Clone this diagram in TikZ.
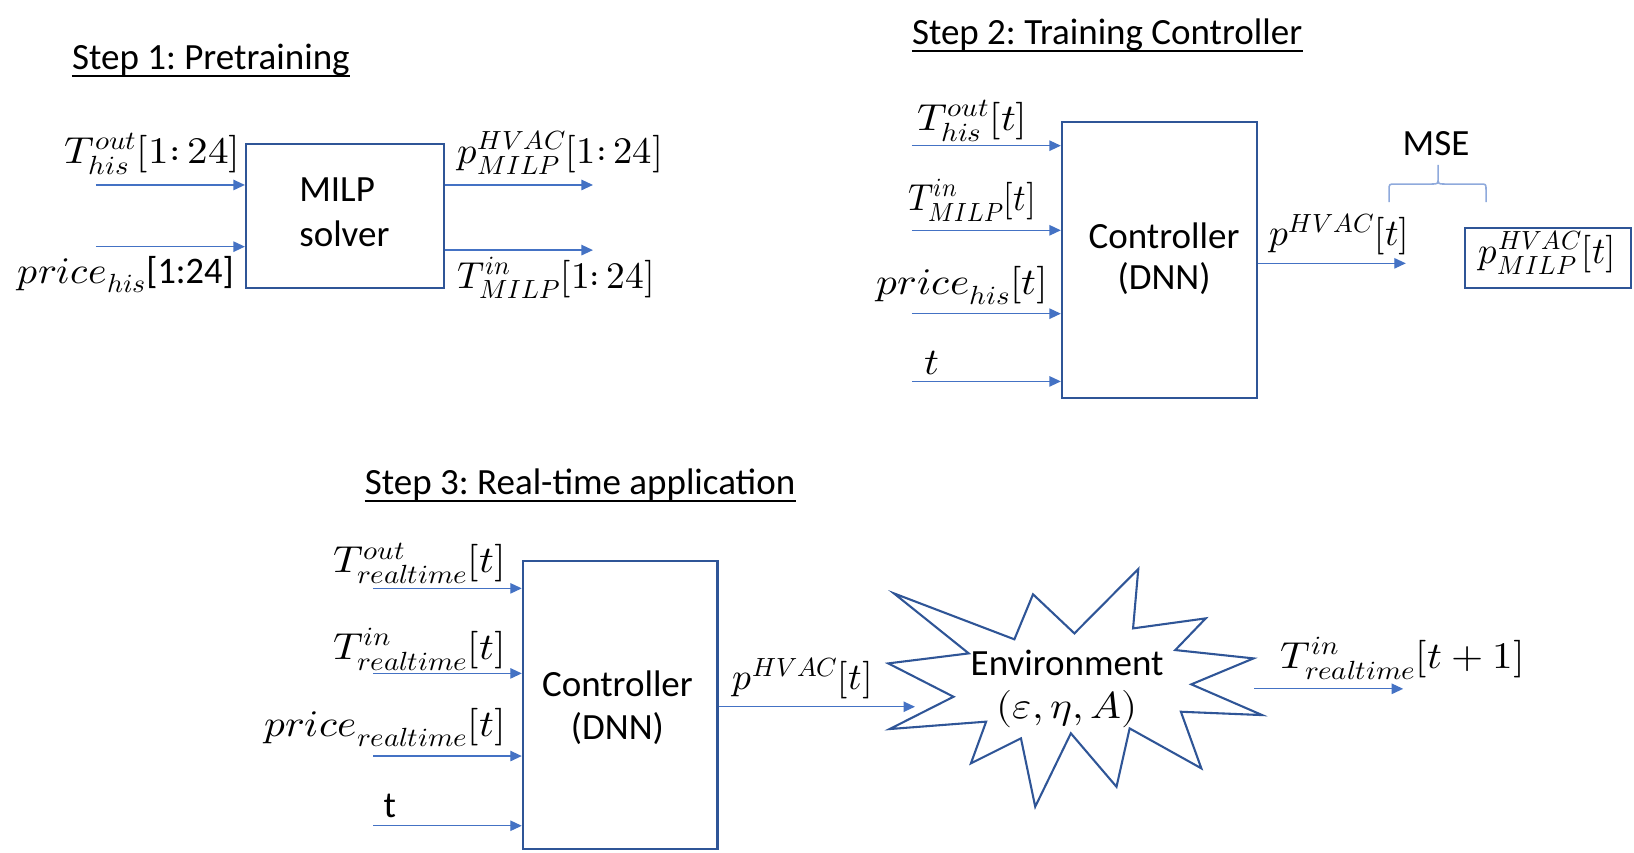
\documentclass[tikz,border=0pt]{standalone}
\usepackage{fontspec}
\usepackage{amsmath}
\usepackage{unicode-math}
\setmainfont{Carlito}
\usepackage{graphicx}
\usetikzlibrary{arrows.meta}
\definecolor{arrblue}{HTML}{4472C4}
\definecolor{boxblue}{HTML}{2F5597}
\definecolor{braceblue}{HTML}{8FAADC}
\frenchspacing
\newcommand\txtfnt{\fontsize{35.5}{42}\selectfont}
\newcommand\mthfnt{\fontsize{36}{43}\selectfont}
\newcommand\mathlbl[2][1.1]{\scalebox{#1}[1]{$#2$}}
\tikzset{
  arr/.style={draw=arrblue, line width=1.2pt, -{Triangle[length=11pt,width=10pt]}},
  box/.style={draw=boxblue, line width=2pt, inner sep=0pt, anchor=north west},
  txt/.style={inner sep=0pt, font=\txtfnt},
  mlbl/.style={inner sep=0pt, font=\mthfnt},
  uline/.style={line width=1.8pt},
  starline/.style={draw=boxblue, line width=2pt, line join=miter},
  bracel/.style={draw=braceblue, line width=1.5pt}
}
\begin{document}
\begin{tikzpicture}[x=1pt,y=-1pt]
\useasboundingbox[fill=white] (0,0) rectangle (1568,818);

% ---------------- Step 1 ----------------
\node[txt, anchor=base west] (t1) at (69,67) {Step 1: Pretraining};
\draw[uline] ([yshift=-6pt]t1.base west) -- ([yshift=-6pt]t1.base east);
\node[box, minimum width=190pt, minimum height=137.4pt] (milp) at (235,137.6) {};
\node[txt, anchor=base west] (milpa) at (287,193.5) {MILP};
\node[txt, anchor=base west] (milpb) at (287,236.7) {solver};
\coordinate (s1a) at (92,177.5);
\coordinate (s1b) at (92,236.7);
\coordinate (e1a) at (569,177.5);
\coordinate (e1b) at (569,240);
\draw[arr] (s1a) -- (s1a -| milp.west);
\draw[arr] (s1b) -- (s1b -| milp.west);
\draw[arr] (e1a -| milp.east) -- (e1a);
\draw[arr] (e1b -| milp.east) -- (e1b);
\node[mlbl, anchor=base west] (l1a) at (62,156.8) {\mathlbl{T^{out}_{his}[1\mathpunct{:}24]}};
\node[mlbl, anchor=base west] (l1b) at (16.7,272) {\mathlbl[1.06]{price_{his}}\scalebox{0.97}[1]{[1:24]}};
\node[mlbl, anchor=base west] (l1c) at (439,157) {\mathlbl[1.03]{p^{HVAC}_{MILP}[1\mathpunct{:}24]}};
\node[mlbl, anchor=base west] (l1d) at (439,276.7) {\mathlbl[1.0]{T^{in}_{MILP}[1\mathpunct{:}24]}};

% ---------------- Step 2 ----------------
\node[txt, anchor=base west] (t2) at (875,43) {Step 2: Training Controller};
\draw[uline] ([yshift=-6pt]t2.base west) -- ([yshift=-6pt]t2.base east);
\node[box, minimum width=187pt, minimum height=264.9pt] (ctrl2) at (1018,115.8) {};
\node[txt, anchor=base] (c2a) at (1117,238) {Controller};
\node[txt, anchor=base] (c2b) at (1117,278) {(DNN)};
\coordinate (s2a) at (875,139.8);
\coordinate (s2b) at (875,221);
\coordinate (s2c) at (875,301);
\coordinate (s2d) at (875,366);
\draw[arr] (s2a) -- (s2a -| ctrl2.west);
\draw[arr] (s2b) -- (s2b -| ctrl2.west);
\draw[arr] (s2c) -- (s2c -| ctrl2.west);
\draw[arr] (s2d) -- (s2d -| ctrl2.west);
\node[mlbl, anchor=base west] (l2a) at (880,125) {\mathlbl{T^{out}_{his}[t]}};
\node[mlbl, anchor=base west] (l2b) at (871.5,202) {\mathlbl[0.93]{T^{in}_{MILP}[t]}};
\node[mlbl, anchor=base west] (l2c) at (841,283) {\mathlbl{price_{his}[t]}};
\node[mlbl, anchor=base west] (l2d) at (887,359) {\mathlbl{t}};
\coordinate (e2) at (1349,252.7);
\draw[arr] (e2 -| ctrl2.east) -- (e2);
\node[mlbl, anchor=base west] (l2e) at (1218,236) {\mathlbl[1.0]{p^{HVAC}[t]}};
\node[txt, anchor=base] (mse) at (1378,149) {MSE};
\draw[bracel] (1333,194) -- (1333,182) .. controls (1333,176.6) .. (1339,176.6) -- (1374,176.6)
  .. controls (1380,176.6) .. (1380,170) -- (1380,158.3) -- (1380,170)
  .. controls (1380,176.6) .. (1386,176.6) -- (1420,176.6)
  .. controls (1426,176.6) .. (1426,182) -- (1426,194);
\node[box, minimum width=159pt, minimum height=57pt] (pmilp) at (1405,218) {};
\node[mlbl, anchor=base west] (l2f) at (1419,252.7) {\mathlbl[0.98]{p^{HVAC}_{MILP}[t]}};

% ---------------- Step 3 ----------------
\node[txt, anchor=base west] (t3) at (350,475) {Step 3: Real-time application};
\draw[uline] ([yshift=-6pt]t3.base west) -- ([yshift=-6pt]t3.base east);
\node[box, minimum width=186.8pt, minimum height=276.1pt] (ctrl3) at (500.7,537.4) {};
\node[txt, anchor=base] (c3a) at (592.5,668.6) {Controller};
\node[txt, anchor=base] (c3b) at (592.5,710) {(DNN)};
\coordinate (s3a) at (358,564.6);
\coordinate (s3b) at (358,646.2);
\coordinate (s3c) at (358,725.5);
\coordinate (s3d) at (358,792.4);
\draw[arr] (s3a) -- (s3a -| ctrl3.west);
\draw[arr] (s3b) -- (s3b -| ctrl3.west);
\draw[arr] (s3c) -- (s3c -| ctrl3.west);
\draw[arr] (s3d) -- (s3d -| ctrl3.west);
\node[mlbl, anchor=base east] (l3a) at (485.6,549.6) {\mathlbl{T^{out}_{realtime}[t]}};
\node[mlbl, anchor=base east] (l3b) at (485.6,632.7) {\mathlbl{T^{in}_{realtime}[t]}};
\node[mlbl, anchor=base east] (l3c) at (485.6,707) {\mathlbl{price_{realtime}[t]}};
\node[txt, anchor=base west] (l3d) at (368,784.7) {t};
\coordinate (e3) at (878,678.2);
\draw[arr] (e3 -| ctrl3.east) -- (e3);
\node[mlbl, anchor=base west] (l3e) at (703,662) {\mathlbl[1.0]{p^{HVAC}[t]}};

% environment star
\draw[starline] (857.8,569.4) -- (973.4,613.5) -- (991.3,570.3) -- (1031.0,607.8)
  -- (1092.3,546.0) -- (1087.3,603.0) -- (1157.0,593.4) -- (1127.8,623.8)
  -- (1202.9,631.8) -- (1143.2,656.7) -- (1211.2,686.2) -- (1133.2,683.0)
  -- (1152.8,737.3) -- (1084.0,699.0) -- (1071.4,755.0) -- (1027.6,703.7)
  -- (993.4,774.1) -- (979.7,708.5) -- (931.7,732.5) -- (946.3,692.5)
  -- (853.7,699.6) -- (915.0,668.6) -- (852.4,636.6) -- (929.6,627.0) -- cycle;
\node[txt, anchor=base] (env) at (1024,647.8) {Environment};
\node[mlbl, anchor=base] (envp) at (1024,689) {\mathlbl{(\varepsilon,\eta,A)}};
\coordinate (s4) at (1203.5,661);
\coordinate (e4) at (1346.5,661);
\draw[arr] (s4) -- (e4);
\node[mlbl, anchor=base west] (l4) at (1229,641.4) {\mathlbl{T^{in}_{realtime}[t+1]}};
\end{tikzpicture}
\end{document}
